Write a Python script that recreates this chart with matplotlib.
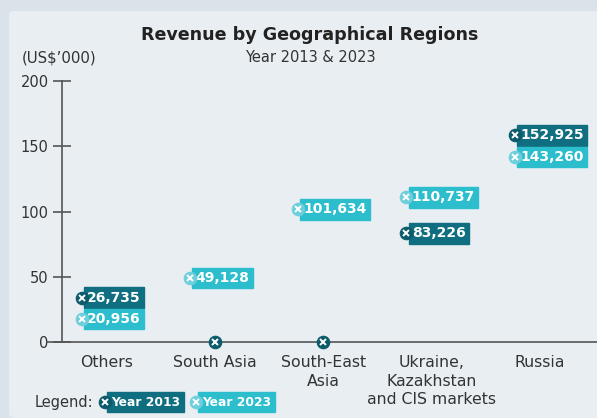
#revenue by region, dot chart with value tags

import numpy as np
from matplotlib import pyplot as plt
from matplotlib.patches import FancyBboxPatch

regions = ["Others", "South Asia", "South-East\nAsia",
           "Ukraine,\nKazakhstan\nand CIS markets", "Russia"]
rev_2013 = [26735, 0, 0, 83226, 152925]
rev_2023 = [20956, 49128, 101634, 110737, 143260]
years = ["Year 2013", "Year 2023"]
y_ticks = [0, 50, 100, 150, 200]

dark = "#0f6e7f"
light = "#2cbecd"
dark_dot = "#0b5b6b"
light_dot = "#6dcfdb"
txt = "#333333"

plt.rcParams['font.family'] = ['DejaVu Sans']

fig = plt.figure(figsize=(5.97, 4.18), dpi=100, facecolor="#d9e3e9")
# light panel behind everything
panel = FancyBboxPatch((9 / 597, 0), 1.0, 1 - 11 / 418,
                       boxstyle="round,pad=0,rounding_size=0.01",
                       transform=fig.transFigure, fc="#e9eef2", ec="none", zorder=-5)
fig.patches.append(panel)

ax = fig.add_axes([62 / 597, 76 / 418, 1 - 62 / 597, (342 - 81) / 418])
ax.set_facecolor("none")
ax.set_xlim(-0.416, 4.527)
ax.set_ylim(0, 200)

for s in ["top", "right"]:
    ax.spines[s].set_visible(False)
for s in ["left", "bottom"]:
    ax.spines[s].set_color("#555555")
    ax.spines[s].set_linewidth(1.2)
ax.spines["bottom"].set_bounds(-0.55, 4.527)
ax.spines["bottom"].set_clip_on(False)

ax.set_yticks(y_ticks)
ax.tick_params(axis="y", direction="inout", length=13, width=1.2,
               color="#555555", labelsize=10.5, labelcolor=txt, pad=3)
ax.set_xticks(range(len(regions)))
ax.set_xticklabels(regions, fontsize=11.3, color=txt, linespacing=1.28, va="top")
ax.tick_params(axis="x", length=0, pad=9.5)


def dot(x, y, fc, trans=None):
    kw = dict(clip_on=False, zorder=5)
    if trans is not None:
        kw["transform"] = trans
    ax.plot(x, y, "o", ms=9, mfc=fc, mec=fc, mew=0.8, **kw)
    ax.plot(x, y, "x", ms=4.2, mec="white", mew=1.4, **kw)


min_gap = 16.5
off = 0.235
for i in range(len(regions)):
    a = rev_2013[i] / 1000
    b = rev_2023[i] / 1000
    ya, yb = a, b
    # spread tags that would overlap
    if a > 0 and b > 0 and abs(a - b) < min_gap:
        mid = (a + b) / 2 + 2
        sign = 1 if a >= b else -1
        ya = mid + sign * min_gap / 2
        yb = mid - sign * min_gap / 2
    for v, yy, col, dcol in [(a, ya, dark, dark_dot), (b, yb, light, light_dot)]:
        if v == 0:
            dot(i, 0, dcol)
            continue
        ax.annotate(f"{round(v * 1000):,}",
                    xy=(i - off, yy), xytext=(4, 0), textcoords="offset points",
                    ha="left", va="center", fontsize=10, fontweight="bold",
                    color="white", zorder=4, annotation_clip=False,
                    bbox=dict(boxstyle="square,pad=0.24", fc=col, ec=col))
        dot(i - off, yy, dcol)

fig.text(310 / 597, 1 - 35 / 418, "Revenue by Geographical Regions",
         ha="center", va="center", fontsize=12.6, fontweight="bold", color="#222222")
fig.text(310 / 597, 1 - 58 / 418, "Year 2013 & 2023",
         ha="center", va="center", fontsize=10.5, color=txt)
fig.text(22 / 597, 1 - 58 / 418, r"(US\$’000)",
         ha="left", va="center", fontsize=10.8, color=txt)

# legend row at the bottom
fig.text(35 / 597, 1 - 402 / 418, "Legend:", ha="left", va="center",
         fontsize=10.5, color=txt)
leg_x = [105, 196]
for lx, lab, col, dcol in zip(leg_x, years, [dark, light], [dark_dot, light_dot]):
    fig.text((lx + 6) / 597, 1 - 402 / 418, lab, ha="left", va="center",
             fontsize=8.8, fontweight="bold", color="white", zorder=-1,
             bbox=dict(boxstyle="square,pad=0.3", fc=col, ec=col))
    dot(lx / 597, 1 - 402 / 418, dcol, trans=fig.transFigure)

fig.savefig("out.png", dpi=100, facecolor=fig.get_facecolor())
